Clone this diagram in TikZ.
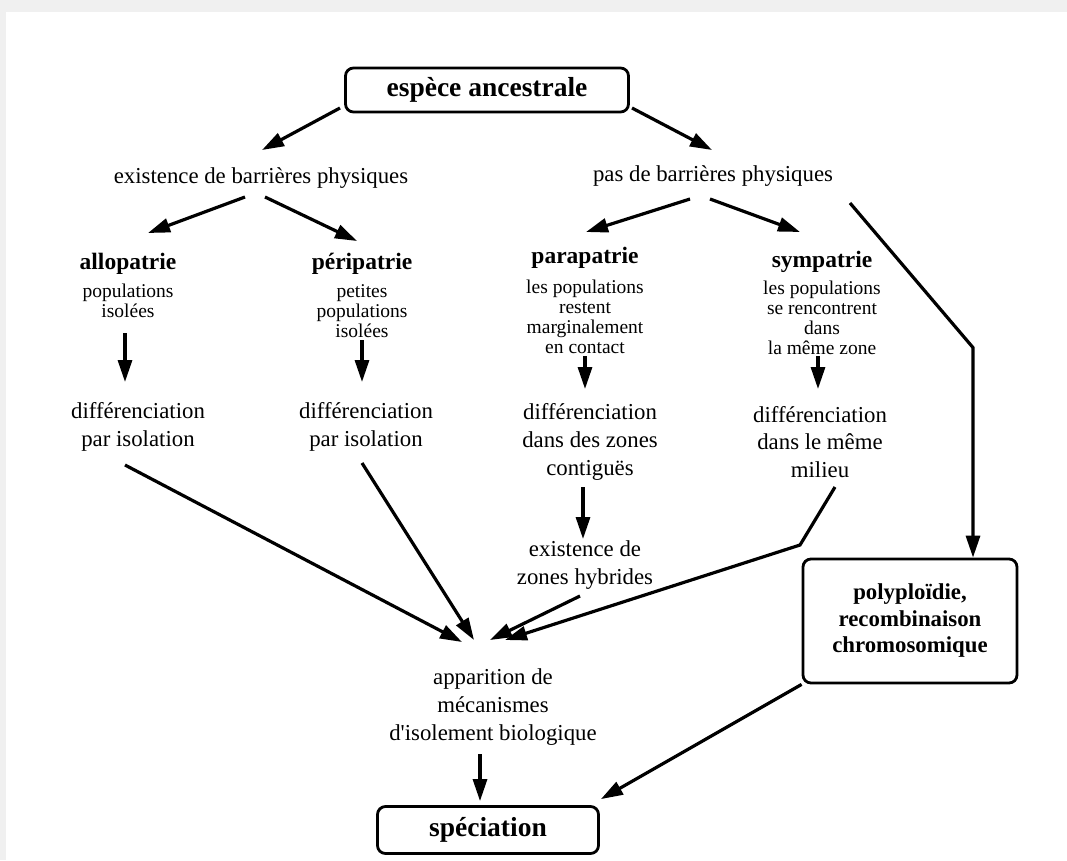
\documentclass[tikz,border=0pt]{standalone}
\usepackage{fontspec}
\setmainfont{Liberation Serif}
\usetikzlibrary{arrows.meta, calc}

\begin{document}
\begin{tikzpicture}[
    x=1pt, y=-1pt,
    box/.style={rectangle, rounded corners=8pt, draw, line width=2.8pt,
                fill=white, align=center, font=\bfseries\fontsize{#1}{26.5}\selectfont},
    ttl/.style={font=\bfseries\fontsize{23.5}{26}\selectfont, inner sep=0pt},
    desc/.style={font=\fontsize{19.5}{19.8}\selectfont, align=center, inner sep=0pt},
    txt/.style={font=\fontsize{22.8}{27.8}\selectfont, align=center, inner sep=0pt},
    arr/.style={-{Triangle[length=22pt,width=14pt]}, line width=3.2pt},
  ]
    % frame of the page
    \fill[black!6] (0,0) rectangle (1067,860);
    \fill[white] (6,12) rectangle (1067,860);
    \useasboundingbox (0,0) rectangle (1067,860);

    \node[box=27.5, minimum width=283pt, minimum height=44pt] (anc) at (487,90) {espèce ancestrale};
    \node[txt] (exi) at (261,178) {existence de barrières physiques};
    \node[txt] (pas) at (713,176) {pas de barrières physiques};

    \node[ttl] (allo) at (128,264) {allopatrie};
    \node[desc] (alloD) at (128,301) {populations\\isolées};
    \node[ttl] (peri) at (362,264) {péripatrie};
    \node[desc] (periD) at (362,311) {petites\\populations\\isolées};
    \node[ttl] (para) at (585,258) {parapatrie};
    \node[desc] (paraD) at (585,317) {les populations\\restent\\marginalement\\en contact};
    \node[ttl] (symp) at (822,262) {sympatrie};
    \node[desc] (sympD) at (822,318) {les populations\\se rencontrent\\dans\\la même zone};

    \node[txt] (diff1) at (138,427) {différenciation\\par isolation};
    \node[txt] (diff2) at (366,427) {différenciation\\par isolation};
    \node[txt] (diff3) at (590,442) {différenciation\\dans des zones\\contiguës};
    \node[txt] (diff4) at (820,442) {différenciation\\dans le même\\milieu};
    \node[txt] (hyb) at (585,565) {existence de\\zones hybrides};
    \node[txt] (appa) at (493,707) {apparition de\\mécanismes\\d\textquotesingle isolement biologique};

    \node[box=22.8, minimum width=214pt, minimum height=124pt] (poly) at (910,621)
      {polyploïdie,\\recombinaison\\chromosomique};
    \node[box=27.5, minimum width=221pt, minimum height=47pt] (spec) at (488,830) {spéciation};

    \draw[arr] ($(anc)+(-147,18)$) -- ($(exi)+(1,-28)$);
    \draw[arr] ($(anc)+(145,18)$) -- ($(pas)+(-1,-26)$);
    \draw[arr] ($(exi)+(-16,19)$) -- ($(allo)+(20,-31)$);
    \draw[arr] ($(exi)+(4,19)$) -- ($(peri)+(-5,-23)$);
    \draw[arr] ($(pas)+(-23,23)$) -- ($(para)+(1,-26)$);
    \draw[arr] ($(pas)+(-3,23)$) -- ($(symp)+(-22,-30)$);
    \draw[arr] ($(pas)+(137,27)$) -- ($(poly.north)+(63,-210)$) -- ($(poly.north)+(63,0)$);

    \draw[arr] ($(alloD)+(-3,32)$) -- ($(diff1)+(-13,-45)$);
    \draw[arr] ($(periD)+(0,29)$) -- ($(diff2)+(-4,-45)$);
    \draw[arr] ($(paraD)+(0,39)$) -- ($(diff3)+(-5,-53)$);
    \draw[arr] ($(sympD)+(-4,38)$) -- ($(diff4)+(-2,-53)$);
    \draw[arr] ($(diff3)+(-7,45)$) -- ($(hyb)+(-2,-26)$);

    \draw[arr] ($(diff1)+(-13,38)$) -- ($(appa)+(-31,-65)$);
    \draw[arr] ($(diff2)+(-4,36)$) -- ($(appa)+(-19,-67)$);
    \draw[arr] ($(hyb)+(-5,31)$) -- ($(appa)+(-3,-67)$);
    \draw[arr] ($(diff4)+(15,45)$) -- ($(diff4)+(-20,103)$) -- ($(appa)+(12,-67)$);
    \draw[arr] ($(appa)+(-13,47)$) -- ($(spec.north)+(-8,-4)$);
    \draw[arr] (poly.south west) -- ($(spec.north east)+(1,-6)$);
  \end{tikzpicture}
\end{document}
